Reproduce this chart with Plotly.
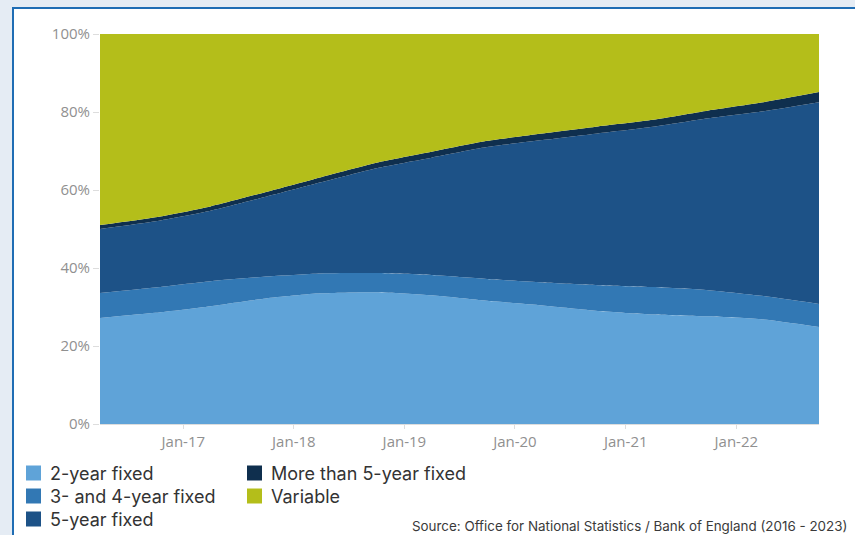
import plotly.graph_objects as go

# Half-yearly observations, Apr 2016 to Oct 2022 (share of new mortgages, %)
dates = ["2016-04-01", "2016-10-01", "2017-04-01", "2017-10-01", "2018-04-01",
         "2018-10-01", "2019-04-01", "2019-10-01", "2020-04-01", "2020-10-01",
         "2021-04-01", "2021-10-01", "2022-04-01", "2022-10-01"]
fixed_2yr = [27.2, 28.5, 30.2, 32.2, 33.5, 33.8, 33.0, 31.6, 30.4, 29.0, 28.1, 27.6, 26.8, 24.9]
fixed_3_4yr = [6.4, 6.5, 6.4, 5.6, 5.1, 4.9, 5.2, 5.6, 5.9, 6.6, 7.0, 6.7, 6.0, 5.9]
fixed_5yr = [16.4, 17.0, 18.1, 20.5, 23.4, 26.9, 30.1, 33.8, 36.5, 38.9, 41.1, 44.1, 47.4, 51.7]
fixed_over_5yr = [1.0, 1.0, 1.1, 1.2, 1.3, 1.4, 1.5, 1.6, 1.7, 1.8, 1.8, 2.0, 2.3, 2.6]
variable = [round(100 - a - b - c - d, 1) for a, b, c, d in
            zip(fixed_2yr, fixed_3_4yr, fixed_5yr, fixed_over_5yr)]

series = [
    ("2-year fixed", fixed_2yr, "#5fa3d8"),
    ("3- and 4-year fixed", fixed_3_4yr, "#3278b4"),
    ("5-year fixed", fixed_5yr, "#1d5287"),
    ("More than 5-year fixed", fixed_over_5yr, "#0f2f4e"),
    ("Variable", variable, "#b4be1a"),
]

tick_dates = ["2017-01-01", "2018-01-01", "2019-01-01", "2020-01-01", "2021-01-01", "2022-01-01"]
tick_labels = ["Jan-17", "Jan-18", "Jan-19", "Jan-20", "Jan-21", "Jan-22"]
y_ticks = [0, 20, 40, 60, 80, 100]
y_labels = ["0%", "20%", "40%", "60%", "80%", "100%"]

fig = go.Figure()
for name, vals, col in series:
    fig.add_trace(go.Scatter(
        x=dates, y=vals, name=name, stackgroup="one", mode="lines",
        line=dict(width=0, shape="spline", smoothing=0.6, color=col),
        fillcolor=col, showlegend=False,
    ))

W, H = 855, 535
L, R, T, B = 100, 36, 34, 111
pw, ph = W - L - R, H - T - B


def px(x):
    return (x - L) / pw


def py(y):
    return (H - B - y) / ph


shapes = [
    # white card with blue border
    dict(type="rect", xref="paper", yref="paper", layer="below",
         x0=px(13), x1=px(870), y0=py(8), y1=py(560),
         fillcolor="white", line=dict(color="#1f6db4", width=2)),
]
annotations = []

# legend: two columns of colour swatches with labels
legend_pos = [(26, 473), (26, 496), (26, 519), (247, 473), (247, 496)]
for (name, _, col), (lx, ly) in zip(series, legend_pos):
    shapes.append(dict(type="rect", xref="paper", yref="paper",
                       x0=px(lx), x1=px(lx + 15), y0=py(ly - 7.5), y1=py(ly + 7.5),
                       fillcolor=col, line=dict(width=0)))
    annotations.append(dict(xref="paper", yref="paper", x=px(lx + 22), y=py(ly),
                            text=name, showarrow=False, xanchor="left", yanchor="middle",
                            font=dict(family="Inter, Roboto, sans-serif", size=18, color="#333333")))

annotations.append(dict(xref="paper", yref="paper", x=px(849), y=py(526),
                        text="Source: Office for National Statistics / Bank of England (2016 - 2023)",
                        showarrow=False, xanchor="right", yanchor="middle",
                        font=dict(family="Inter, Roboto, sans-serif", size=13.4, color="#3a3a3a")))

fig.update_layout(
    width=W, height=H,
    margin=dict(l=L, r=R, t=T, b=B),
    paper_bgcolor="#e5ecf4",
    plot_bgcolor="rgba(0,0,0,0)",
    shapes=shapes,
    annotations=annotations,
    xaxis=dict(range=["2016-04-01", "2022-10-01"], tickvals=tick_dates, ticktext=tick_labels,
               showgrid=False, zeroline=False, showline=True, linecolor="#dddddd",
               ticks="outside", ticklen=4, tickcolor="#dddddd",
               tickfont=dict(family="Open Sans, sans-serif", size=15, color="#909090")),
    yaxis=dict(range=[0, 100], tickvals=y_ticks, ticktext=y_labels,
               showgrid=False, zeroline=False, showline=False,
               ticks="outside", ticklen=6, tickcolor="#dddddd",
               tickfont=dict(family="Open Sans, sans-serif", size=15, color="#909090")),
)

fig.write_html("out.html")
